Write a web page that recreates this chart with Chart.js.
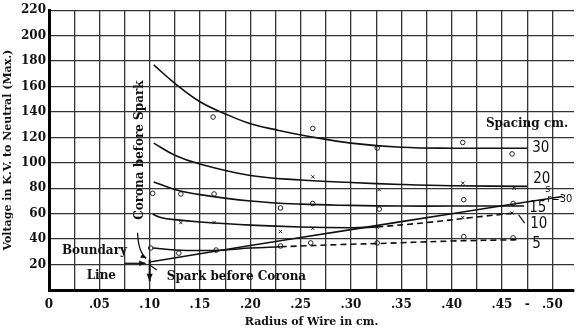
<!DOCTYPE html>
<html>
<head>
<meta charset="utf-8">
<script src="https://cdn.jsdelivr.net/npm/chart.js@4.4.1/dist/chart.umd.min.js"></script>
<style>
  html, body { margin: 0; padding: 0; background: #fff; }
  #wrap { width: 579px; height: 332px; }
</style>
</head>
<body>
<div id="wrap"><canvas id="grafica"></canvas></div>
<script>
// curves: radius of wire (cm) -> kV to neutral (max.)
const radio30 = [0.104, 0.125, 0.15, 0.178, 0.201, 0.227, 0.26, 0.3, 0.35, 0.4, 0.475];
const volts30 = [177, 162.5, 148, 137.5, 130.5, 125.7, 120.5, 115.5, 112.3, 111.5, 111.5];
const radio20 = [0.104, 0.125, 0.15, 0.2, 0.25, 0.3, 0.35, 0.4, 0.475];
const volts20 = [115.5, 106, 99, 90, 86.5, 84.5, 83, 82, 81.5];
const radio15 = [0.104, 0.125, 0.15, 0.2, 0.25, 0.3, 0.35, 0.4, 0.472];
const volts15 = [85, 79, 75, 70, 67.5, 66.5, 66, 66, 66];
const radio10 = [0.103, 0.112, 0.125, 0.15, 0.2, 0.25, 0.3, 0.326];
const volts10 = [59.5, 56.8, 55.3, 53.5, 51, 49.5, 49, 49.5];
const radio10b = [0.326, 0.375, 0.42, 0.462];
const volts10b = [49.5, 53, 57, 60.5];
const radio5 = [0.103, 0.125, 0.15, 0.175, 0.2, 0.23];
const volts5 = [33, 31.5, 31, 31.5, 33, 34];
const radio5b = [0.23, 0.3, 0.326, 0.4, 0.465];
const volts5b = [34, 36, 36.5, 38.5, 39.5];
const radioLimite = [0.10, 0.2, 0.3, 0.4, 0.51];
const voltsLimite = [22, 35, 47.5, 60, 73.5];

// observed points
const obs30R = [0.163, 0.262, 0.326, 0.411, 0.46];
const obs30V = [136, 127, 111.6, 116, 107];
const obs20R = [0.262, 0.328, 0.411, 0.462];
const obs20V = [89, 79, 84, 80];
const obs15R = [0.103, 0.131, 0.164, 0.23, 0.262, 0.328, 0.412, 0.461];
const obs15V = [76, 75.5, 75.5, 64.5, 68, 63.6, 71, 68];
const obs10R = [0.131, 0.164, 0.23, 0.262, 0.326, 0.411, 0.46];
const obs10V = [53, 53, 46, 48.5, 49.5, 57, 60.5];
const obs5R = [0.101, 0.129, 0.166, 0.23, 0.26, 0.326, 0.412, 0.461];
const obs5V = [33, 29, 31.4, 34.6, 37, 37, 42, 41];

const yTicks = [0, 20, 40, 60, 80, 100, 120, 140, 160, 180, 200, 220];

const fuente = '"DejaVu Serif", serif';
const puntos = (rs, vs) => rs.map((r, i) => ({x: r, y: vs[i]}));

const curva = (rs, vs, dash) => ({
    data: puntos(rs, vs),
    showLine: true,
    borderColor: '#111',
    borderWidth: 1.6,
    borderDash: dash ? [6, 4] : [],
    pointRadius: 0,
    tension: 0.4
});

const marcas = (rs, vs, estilo) => ({
    data: puntos(rs, vs),
    showLine: false,
    pointStyle: estilo,
    pointRadius: 2.3,
    borderColor: '#222',
    borderWidth: 1,
    backgroundColor: 'rgba(0,0,0,0)'
});

const flecha = (ctx, x1, y1, x2, y2, size) => {
    const a = Math.atan2(y2 - y1, x2 - x1);
    ctx.beginPath(); ctx.moveTo(x1, y1); ctx.lineTo(x2, y2); ctx.stroke();
    ctx.beginPath();
    ctx.moveTo(x2, y2);
    ctx.lineTo(x2 - size * Math.cos(a - 0.4), y2 - size * Math.sin(a - 0.4));
    ctx.lineTo(x2 - size * Math.cos(a + 0.4), y2 - size * Math.sin(a + 0.4));
    ctx.closePath(); ctx.fill();
}

const notas = {
    id: 'notas',
    afterDraw(chart) {
        const {ctx, scales: {x, y}} = chart;
        const px = v => x.getPixelForValue(v);
        const py = v => y.getPixelForValue(v);
        ctx.save();
        ctx.fillStyle = '#111';
        ctx.strokeStyle = '#111';
        ctx.textBaseline = 'middle';
        ctx.textAlign = 'left';

        ctx.font = 'bold 12px ' + fuente;
        ctx.fillText('Spacing cm.', px(0.434), py(131));
        ctx.font = '15px "DejaVu Sans Condensed", sans-serif';
        ctx.fillText('30', px(0.48), py(111.5));
        ctx.fillText('20', px(0.481), py(87));
        ctx.fillText('15', px(0.477), py(64.5));
        ctx.fillText('10', px(0.478), py(52));
        ctx.fillText('5', px(0.48), py(36));
        ctx.font = '11px "DejaVu Sans Condensed", sans-serif';
        ctx.fillText('s', px(0.493), py(79));
        ctx.fillText('r=30', px(0.495), py(71.5));

        ctx.font = 'bold 12px ' + fuente;
        ctx.fillText('Boundary', px(0.0128), py(30.6));
        ctx.fillText('Line', px(0.0374), py(11));
        ctx.fillText('Spark before Corona', px(0.117), py(10.2));

        ctx.save();
        ctx.translate(px(0.0905), py(110));
        ctx.rotate(-Math.PI / 2);
        ctx.textAlign = 'center';
        ctx.fillText('Corona before Spark', 0, 0);
        ctx.restore();

        ctx.lineWidth = 1.3;
        // leader lines and arrows
        flecha(ctx, px(0.075), py(21), px(0.096), py(21), 7);
        ctx.beginPath();
        ctx.moveTo(px(0.088), py(45));
        ctx.quadraticCurveTo(px(0.0886), py(30), px(0.0965), py(25));
        ctx.stroke();
        flecha(ctx, px(0.093), py(26.5), px(0.0965), py(25), 6);
        ctx.lineWidth = 2;
        flecha(ctx, px(0.10), py(24), px(0.10), py(7), 8);
        ctx.lineWidth = 1.2;
        ctx.beginPath();
        ctx.moveTo(px(0.107), py(15.7)); ctx.lineTo(px(0.1), py(19.6));
        ctx.moveTo(px(0.4665), py(59)); ctx.lineTo(px(0.4725), py(52.6));
        ctx.stroke();
        ctx.restore();
    }
};

new Chart(document.getElementById('grafica'), {
    type: 'scatter',
    data: {
        datasets: [
            curva(radio30, volts30),
            curva(radio20, volts20),
            curva(radio15, volts15),
            curva(radio10, volts10),
            curva(radio10b, volts10b, true),
            curva(radio5, volts5),
            curva(radio5b, volts5b, true),
            curva(radioLimite, voltsLimite),
            marcas(obs30R, obs30V, 'circle'),
            marcas(obs20R, obs20V, 'crossRot'),
            marcas(obs15R, obs15V, 'circle'),
            marcas(obs10R, obs10V, 'crossRot'),
            marcas(obs5R, obs5V, 'circle')
        ]
    },
    options: {
        responsive: true,
        maintainAspectRatio: false,
        animation: false,
        layout: { padding: { top: 10, right: 0, left: 0, bottom: 0 } },
        plugins: { legend: { display: false }, tooltip: { enabled: false } },
        scales: {
            x: {
                type: 'linear',
                min: 0,
                max: 0.5215,
                afterBuildTicks: scale => {
                    const t = [];
                    for (let k = 0; k <= 20; k++) t.push({value: k * 0.025});
                    scale.ticks = t;
                },
                afterFit: scale => { scale.height = 42; },
                grid: { color: '#333', lineWidth: 1.3, drawTicks: false },
                border: { color: '#000', width: 3 },
                ticks: {
                    padding: 8,
                    maxRotation: 0,
                    autoSkip: false,
                    color: '#111',
                    font: { family: fuente, size: 12, weight: 'bold' },
                    callback: v => {
                        const k = Math.round(v * 1000);
                        if (k === 0) return '0';
                        if (k === 475) return '-';
                        if (k % 50 !== 0) return '';
                        return '.' + String(k / 10).padStart(2, '0');
                    }
                },
                title: {
                    display: true,
                    text: 'Radius of Wire in cm.',
                    color: '#111',
                    font: { family: fuente, size: 11, weight: 'bold' },
                    padding: { top: 0, bottom: 3 }
                }
            },
            y: {
                min: 0,
                max: 220,
                afterBuildTicks: scale => { scale.ticks = yTicks.map(v => ({value: v})); },
                afterFit: scale => { scale.width = 49; },
                grid: { color: '#333', lineWidth: 1.3, drawTicks: false },
                border: { color: '#000', width: 3 },
                ticks: {
                    padding: 3,
                    color: '#111',
                    font: { family: fuente, size: 12, weight: 'bold' },
                    callback: v => v === 0 ? '' : v
                },
                title: {
                    display: true,
                    text: 'Voltage in K.V. to Neutral (Max.)',
                    color: '#111',
                    font: { family: fuente, size: 11, weight: 'bold' },
                    padding: { top: 2, bottom: 0 }
                }
            }
        }
    },
    plugins: [notas]
});
</script>
</body>
</html>
